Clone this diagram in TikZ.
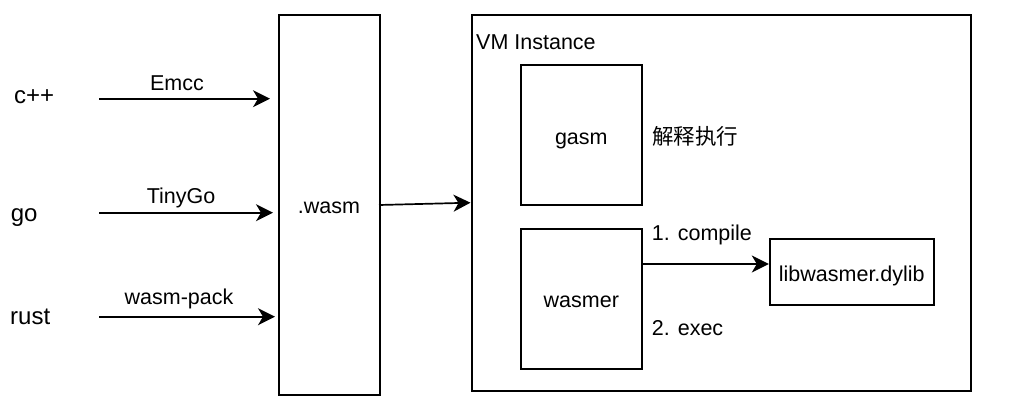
\documentclass[tikz,border=0pt]{standalone}
\usepackage{fontspec}
\setmainfont{Liberation Sans}
\newfontfamily\cjk{Noto Sans CJK SC}
\usetikzlibrary{arrows.meta}
\begin{document}
\begin{tikzpicture}[x=1pt,y=-1pt,
  every node/.style={font=\fontsize{21.5}{25}\selectfont},
  box/.style={draw=black,line width=2pt,inner sep=0pt,text depth=0pt,text height=17pt},
  txt/.style={inner sep=0pt},
  big/.style={font=\fontsize{24}{28}\selectfont},
  conn/.style={line width=1.7pt,-{Stealth[length=17pt,width=17pt,inset=5pt]}}]
\useasboundingbox (0,0) rectangle (1032,404);
% boxes
\node[box,minimum width=101pt,minimum height=380pt] (wasm) at (329,205) {.wasm};
\node[box,minimum width=499pt,minimum height=376pt] (vm) at (721,202.7) {};
\node[box,text height=18.4pt,minimum width=121pt,minimum height=140pt] (gasm) at (581.3,134.8) {gasm};
\node[box,minimum width=121pt,minimum height=140pt] (wasmer) at (581.3,299) {wasmer};
\node[box,text height=20.4pt,minimum width=164pt,minimum height=66pt] (lib) at (851.8,271.7) {libwasmer.dylib};
% texts
\node[txt,anchor=base west] (vmlabel) at (476,49.3) {VM Instance};
\node[txt,big,anchor=base west] (cpp) at (14,103.3) {c++};
\node[txt,big,anchor=base west] (go) at (10.7,221.7) {go};
\node[txt,big,anchor=base west] (rust) at (10,324.3) {rust};
\node[txt,anchor=west,font=\fontsize{21.5}{25}\selectfont\cjk] (interp) at (652,136.5) {解释执行};
\node[txt,anchor=base west] (compile) at (651.7,240) {1. compile};
\node[txt,anchor=base west] (exec) at (651.7,335) {2. exec};
% connector end points
\coordinate (c1s) at (99,98.7);
\coordinate (c1e) at (270,98.7);
\coordinate (c2s) at (99,212.7);
\coordinate (c2e) at (273,212.7);
\coordinate (c3s) at (99,316.7);
\coordinate (c3e) at (275,316.7);
\coordinate (ws) at (379,205);
\coordinate (we) at (vm.west |- 0,202.7);
\coordinate (ls) at (wasmer.east |- 0,264);
\coordinate (le) at (lib.west |- 0,264);
% connectors
\draw[conn] (c1s) -- node[txt,anchor=base,xshift=-7.5pt,yshift=8.7pt] (emcc) {Emcc} (c1e);
\draw[conn] (c2s) -- node[txt,anchor=base,xshift=-5pt,yshift=9.4pt] (tinygo) {TinyGo} (c2e);
\draw[conn] (c3s) -- node[txt,anchor=base,xshift=-8pt,yshift=12.7pt] (wpack) {wasm-pack} (c3e);
\draw[conn] (ws) -- (we);
\draw[conn] (ls) -- (le);
\end{tikzpicture}
\end{document}
